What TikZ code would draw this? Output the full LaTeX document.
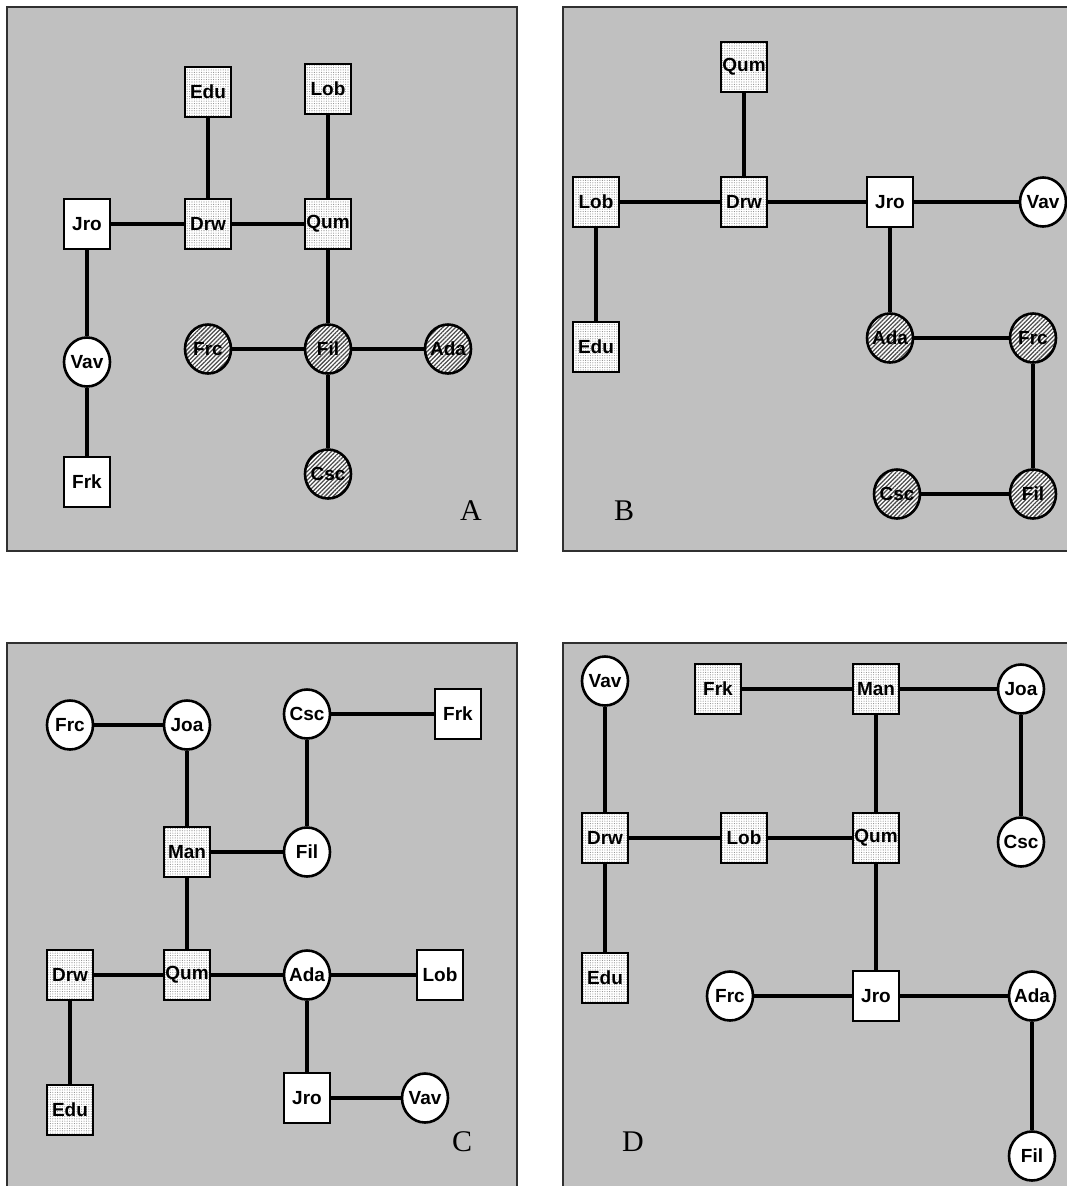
\documentclass[tikz,border=0pt]{standalone}
\usepackage{fontspec}
\newfontfamily\nodefont{Liberation Sans}
\newfontfamily\panelfont{Liberation Serif}
\usetikzlibrary{shapes.geometric,patterns.meta}
\definecolor{panelgray}{HTML}{C0C0C0}
\definecolor{panelrule}{HTML}{303030}
% node labels take no width, so every node keeps its fixed size
\newcommand\nm[1]{\makebox[0pt]{#1}}
\tikzset{
  panel/.style={fill=panelgray,draw=panelrule,line width=2pt},
  base/.style={draw=black,line width=2.6pt,inner sep=0pt,
    font=\nodefont\bfseries\fontsize{19}{19}\selectfont},
  sq/.style={base,rectangle,minimum width=46pt,minimum height=50pt},
  rd/.style={base,ellipse,minimum width=46pt,minimum height=49pt},
  plain/.style={fill=white},
  dotted fill/.style={preaction={fill=white},
    pattern={Dots[distance=2.4pt,radius=0.55pt]},pattern color=black!45},
  hatched/.style={preaction={fill=white},
    pattern={Lines[angle=45,distance=3pt,line width=1.25pt]},pattern color=black!70},
  wsq/.style={sq,plain},
  dsq/.style={sq,dotted fill},
  wrd/.style={rd,plain},
  hrd/.style={rd,hatched},
  link/.style={draw=black,line width=4pt},
  tag/.style={font=\panelfont\fontsize{30}{30}\selectfont,inner sep=0pt}
}
\begin{document}
\begin{tikzpicture}[x=1pt,y=-1pt]
\useasboundingbox (0,0) rectangle (1067,1186);

% panel frames
\path[panel] (7,7) rectangle (517,551);
\path[panel] (563,7) rectangle (1072,551);
\path[panel] (7,643) rectangle (517,1192);
\path[panel] (563,643) rectangle (1072,1192);

% ---------- panel A ----------
\node[dsq] (aEdu) at (208,92) {\nm{Edu}};
\node[dsq] (aLob) at (328,89) {\nm{Lob}};
\node[wsq] (aJro) at (87,224) {\nm{Jro}};
\node[dsq] (aDrw) at (208,224) {\nm{Drw}};
\node[dsq] (aQum) at (328,224) {\nm{Qum}};
\node[hrd] (aFrc) at (208,349) {\nm{Frc}};
\node[hrd] (aFil) at (328,349) {\nm{Fil}};
\node[hrd] (aAda) at (448,349) {\nm{Ada}};
\node[wrd] (aVav) at (87,362) {\nm{Vav}};
\node[hrd] (aCsc) at (328,474) {\nm{Csc}};
\node[wsq] (aFrk) at (87,482) {\nm{Frk}};
\node[tag] (aTag) at (471,511) {A};
\draw[link] (aEdu) -- (aDrw);
\draw[link] (aLob) -- (aQum);
\draw[link] (aJro) -- (aDrw);
\draw[link] (aDrw) -- (aQum);
\draw[link] (aQum) -- (aFil);
\draw[link] (aFrc) -- (aFil);
\draw[link] (aFil) -- (aAda);
\draw[link] (aFil) -- (aCsc);
\draw[link] (aJro) -- (aVav);
\draw[link] (aVav) -- (aFrk);

% ---------- panel B ----------
\node[dsq] (bQum) at (744,67) {\nm{Qum}};
\node[dsq] (bLob) at (596,202) {\nm{Lob}};
\node[dsq] (bDrw) at (744,202) {\nm{Drw}};
\node[wsq] (bJro) at (890,202) {\nm{Jro}};
\node[wrd] (bVav) at (1043,202) {\nm{Vav}};
\node[dsq] (bEdu) at (596,347) {\nm{Edu}};
\node[hrd] (bAda) at (890,338) {\nm{Ada}};
\node[hrd] (bFrc) at (1033,338) {\nm{Frc}};
\node[hrd] (bCsc) at (897,494) {\nm{Csc}};
\node[hrd] (bFil) at (1033,494) {\nm{Fil}};
\node[tag] (bTag) at (624,511) {B};
\draw[link] (bQum) -- (bDrw);
\draw[link] (bLob) -- (bDrw);
\draw[link] (bDrw) -- (bJro);
\draw[link] (bJro) -- (bVav);
\draw[link] (bLob) -- (bEdu);
\draw[link] (bJro) -- (bAda);
\draw[link] (bAda) -- (bFrc);
\draw[link] (bFrc) -- (bFil);
\draw[link] (bCsc) -- (bFil);

% ---------- panel C ----------
\node[wrd] (cFrc) at (70,725) {\nm{Frc}};
\node[wrd] (cJoa) at (187,725) {\nm{Joa}};
\node[wrd] (cCsc) at (307,714) {\nm{Csc}};
\node[wsq] (cFrk) at (458,714) {\nm{Frk}};
\node[dsq] (cMan) at (187,852) {\nm{Man}};
\node[wrd] (cFil) at (307,852) {\nm{Fil}};
\node[dsq] (cDrw) at (70,975) {\nm{Drw}};
\node[dsq] (cQum) at (187,975) {\nm{Qum}};
\node[wrd] (cAda) at (307,975) {\nm{Ada}};
\node[wsq] (cLob) at (440,975) {\nm{Lob}};
\node[wsq] (cJro) at (307,1098) {\nm{Jro}};
\node[wrd] (cVav) at (425,1098) {\nm{Vav}};
\node[dsq] (cEdu) at (70,1110) {\nm{Edu}};
\node[tag] (cTag) at (462,1142) {C};
\draw[link] (cFrc) -- (cJoa);
\draw[link] (cJoa) -- (cMan);
\draw[link] (cCsc) -- (cFrk);
\draw[link] (cCsc) -- (cFil);
\draw[link] (cMan) -- (cFil);
\draw[link] (cMan) -- (cQum);
\draw[link] (cDrw) -- (cQum);
\draw[link] (cQum) -- (cAda);
\draw[link] (cAda) -- (cLob);
\draw[link] (cDrw) -- (cEdu);
\draw[link] (cAda) -- (cJro);
\draw[link] (cJro) -- (cVav);

% ---------- panel D ----------
\node[wrd] (dVav) at (605,681) {\nm{Vav}};
\node[dsq] (dFrk) at (718,689) {\nm{Frk}};
\node[dsq] (dMan) at (876,689) {\nm{Man}};
\node[wrd] (dJoa) at (1021,689) {\nm{Joa}};
\node[dsq] (dDrw) at (605,838) {\nm{Drw}};
\node[dsq] (dLob) at (744,838) {\nm{Lob}};
\node[dsq] (dQum) at (876,838) {\nm{Qum}};
\node[wrd] (dCsc) at (1021,842) {\nm{Csc}};
\node[dsq] (dEdu) at (605,978) {\nm{Edu}};
\node[wrd] (dFrc) at (730,996) {\nm{Frc}};
\node[wsq] (dJro) at (876,996) {\nm{Jro}};
\node[wrd] (dAda) at (1032,996) {\nm{Ada}};
\node[wrd] (dFil) at (1032,1156) {\nm{Fil}};
\node[tag] (dTag) at (633,1142) {D};
\draw[link] (dVav) -- (dDrw);
\draw[link] (dFrk) -- (dMan);
\draw[link] (dMan) -- (dJoa);
\draw[link] (dJoa) -- (dCsc);
\draw[link] (dDrw) -- (dLob);
\draw[link] (dLob) -- (dQum);
\draw[link] (dMan) -- (dQum);
\draw[link] (dDrw) -- (dEdu);
\draw[link] (dQum) -- (dJro);
\draw[link] (dFrc) -- (dJro);
\draw[link] (dJro) -- (dAda);
\draw[link] (dAda) -- (dFil);
\end{tikzpicture}
\end{document}
